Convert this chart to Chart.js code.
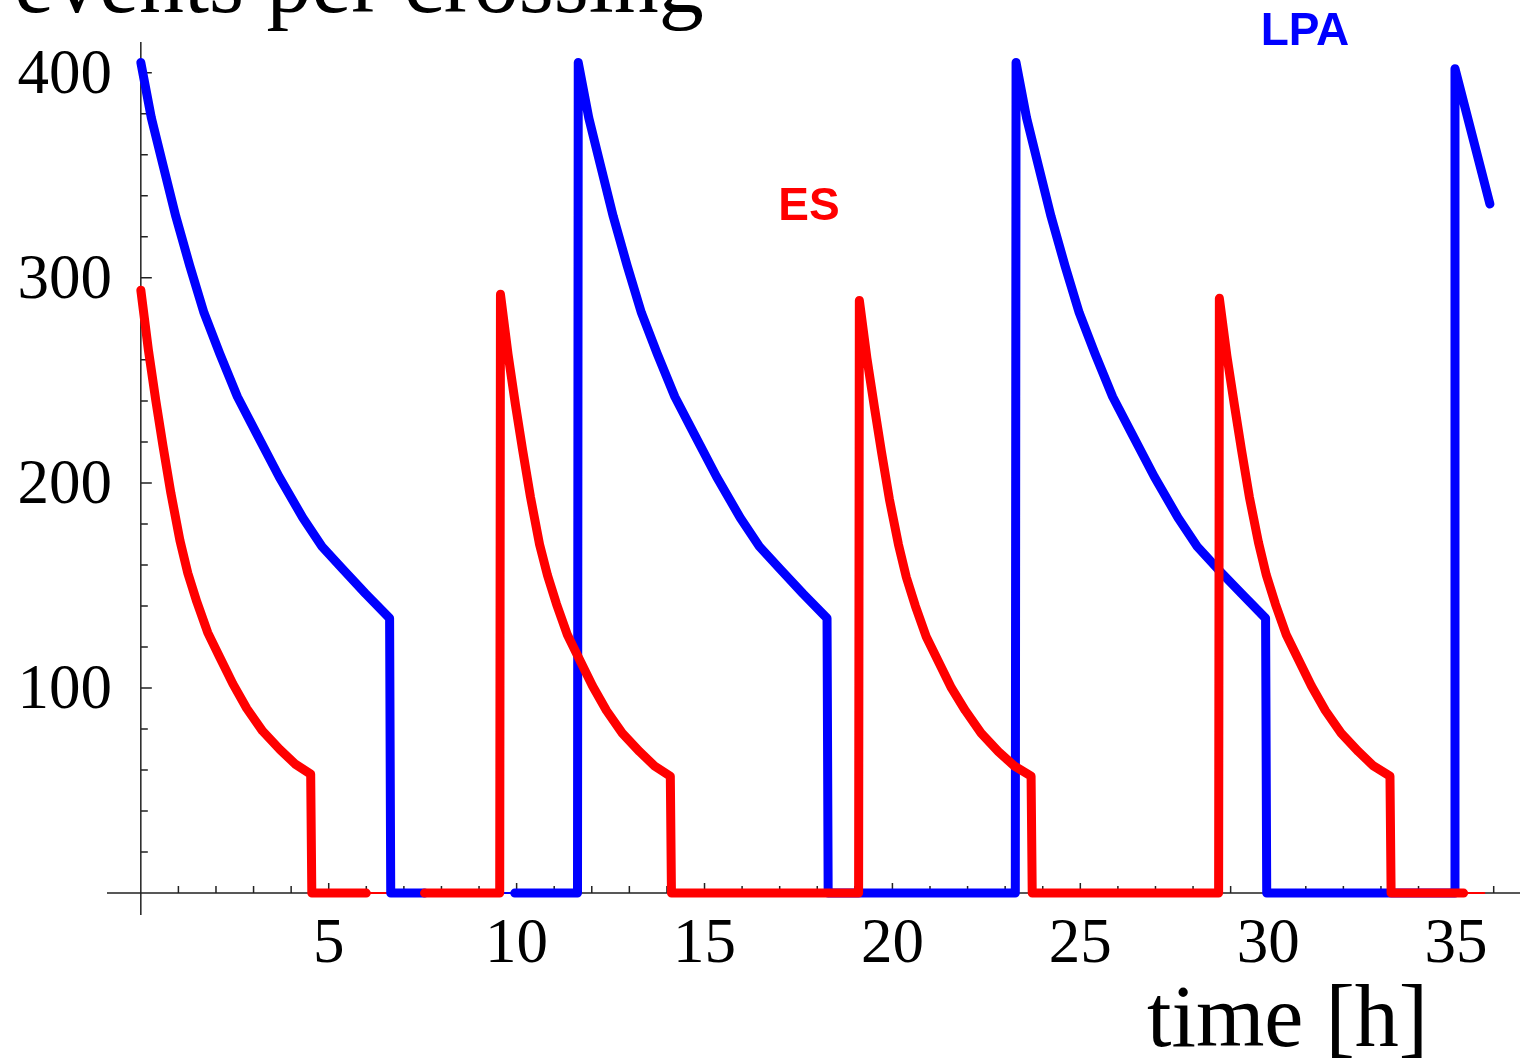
<!DOCTYPE html>
<html>
<head>
<meta charset="utf-8">
<title>events per crossing</title>
<script src="https://cdn.jsdelivr.net/npm/chart.js@4/dist/chart.umd.min.js"></script>
<style>
  html, body { margin: 0; padding: 0; background: #fff; }
  #wrap { width: 1522px; height: 1063px; position: relative; }
</style>
</head>
<body>
<div id="wrap"><canvas id="chart"></canvas></div>
<script>
// axis ticks
const xTickLabels = [5, 10, 15, 20, 25, 30, 35];
const yTickLabels = [100, 200, 300, 400];

// LPA (blue); null = gap in the plotted line
const lpaTime = [
  0, 0.28, 0.59, 0.93, 1.30, 1.68, 2.10, 2.57, 3.08, 3.68, 4.31, 4.82, 5.37, 5.98, 6.62, 6.65, 7.55, 8.0, 9.95, 11.62,
  11.64, 11.92, 12.23, 12.57, 12.94, 13.32, 13.74, 14.21, 14.72, 15.32, 15.95, 16.46, 17.01, 17.62, 18.26, 18.29, 23.27,
  23.29, 23.57, 23.88, 24.22, 24.59, 24.97, 25.39, 25.86, 26.37, 26.97, 27.60, 28.11, 28.66, 29.29, 29.93, 29.96, 34.95,
  34.97, 35.90];
const lpaValue = [
  405, 378, 355, 330, 306, 283, 263, 242, 224, 203, 183, 169, 158, 146, 134, 0, 0, null, 0, 0,
  405, 378, 355, 330, 306, 283, 263, 242, 224, 203, 183, 169, 158, 146, 134, 0, 0,
  405, 378, 355, 330, 306, 283, 263, 242, 224, 203, 183, 169, 158, 146, 134, 0, 0,
  402, 336];

// ES (red)
const esTime = [
  0, 0.20, 0.40, 0.59, 0.80, 1.04, 1.25, 1.49, 1.78, 2.10, 2.45, 2.82, 3.24, 3.70, 4.10, 4.52, 4.55, 6.0, 6.8, 7.55, 9.55,
  9.57, 9.77, 9.97, 10.16, 10.37, 10.61, 10.82, 11.06, 11.35, 11.67, 12.02, 12.39, 12.81, 13.27, 13.67, 14.09, 14.12, 19.10,
  19.12, 19.32, 19.52, 19.71, 19.92, 20.16, 20.37, 20.61, 20.90, 21.22, 21.57, 21.94, 22.36, 22.82, 23.24, 23.69, 23.72, 28.68,
  28.70, 28.90, 29.10, 29.29, 29.50, 29.74, 29.95, 30.19, 30.48, 30.80, 31.15, 31.52, 31.94, 32.40, 32.80, 33.24, 33.27, 35.2];
const esValue = [
  294, 265, 240, 218, 195, 172, 156, 142, 127, 115, 102, 90, 79, 70, 63, 58, 0, 0, null, 0, 0,
  292, 263, 238, 216, 193, 170, 155, 141, 126, 114, 101, 89, 78, 69, 62, 57, 0, 0,
  289, 261, 237, 215, 192, 170, 154, 140, 125, 113, 100, 89, 78, 69, 62, 57, 0, 0,
  290, 262, 238, 216, 193, 171, 155, 141, 126, 114, 101, 89, 78, 69, 62, 57, 0, 0];

// thin pieces of the zero lines
const lpaThinTime = [9.55, 9.95];
const lpaThinValue = [0, 0];
const esThinTime = [6.0, 6.65, 6.7, 35.2, 35.75];
const esThinValue = [0, 0, null, 0, 0];

function toPoints(times, values) {
    return times.map((t, i) => ({ x: t, y: values[i] }));
}

// axes drawn at x = 0 and y = 0, Mathematica style
const axesPlugin = {
    id: 'axesPlugin',
    beforeDatasetsDraw(chart) {
        const ctx = chart.ctx;
        const area = chart.chartArea;
        const xs = chart.scales.x;
        const ys = chart.scales.y;
        const x0 = xs.getPixelForValue(0);
        const y0 = ys.getPixelForValue(0);
        ctx.save();
        ctx.strokeStyle = '#222';
        ctx.lineWidth = 1.5;
        ctx.beginPath();
        ctx.moveTo(area.left, y0);
        ctx.lineTo(area.right, y0);
        ctx.moveTo(x0, area.top);
        ctx.lineTo(x0, area.bottom);
        // x minor / major ticks
        for (let t = 1; t <= 36; t++) {
            const px = xs.getPixelForValue(t);
            const len = t % 5 === 0 ? 10 : 7;
            ctx.moveTo(px, y0);
            ctx.lineTo(px, y0 - len);
        }
        // y minor / major ticks
        for (let v = 20; v <= 400; v += 20) {
            const py = ys.getPixelForValue(v);
            const len = v % 100 === 0 ? 11 : 7;
            ctx.moveTo(x0, py);
            ctx.lineTo(x0 + len, py);
        }
        ctx.stroke();
        ctx.restore();
    },
    afterDraw(chart) {
        const ctx = chart.ctx;
        const xs = chart.scales.x;
        const ys = chart.scales.y;
        const y0 = ys.getPixelForValue(0);
        ctx.save();
        ctx.fillStyle = '#000';
        ctx.font = '63px "Liberation Serif", "DejaVu Serif", serif';
        ctx.textBaseline = 'alphabetic';
        ctx.textAlign = 'center';
        xTickLabels.forEach(v => {
            ctx.fillText(String(v), xs.getPixelForValue(v), y0 + 69);
        });
        ctx.textAlign = 'right';
        yTickLabels.forEach(v => {
            ctx.fillText(String(v), 112, ys.getPixelForValue(v) + 20);
        });

        // axis titles
        ctx.font = '88px "Liberation Serif", "DejaVu Serif", serif';
        ctx.textAlign = 'left';
        ctx.fillText('time [h]', 1147, 1046);
        ctx.font = '90px "Liberation Serif", "DejaVu Serif", serif';
        ctx.fillText('events per crossing', 14, 12);

        // series labels
        ctx.font = 'bold 46px "Liberation Sans", Arial, sans-serif';
        ctx.textAlign = 'center';
        ctx.fillStyle = '#0000ff';
        ctx.fillText('LPA', 1305, 45);
        ctx.fillStyle = '#ff0000';
        ctx.fillText('ES', 809, 220);
        ctx.restore();
    }
};

const lineStyle = {
    pointRadius: 0,
    pointHoverRadius: 0,
    tension: 0,
    fill: false,
    spanGaps: false,
    borderCapStyle: 'round',
    borderJoinStyle: 'round',
    clip: false
};

new Chart(document.getElementById('chart'), {
    type: 'line',
    data: {
        datasets: [
            Object.assign({
                label: 'ES',
                data: toPoints(esTime, esValue),
                borderColor: '#ff0000',
                borderWidth: 9,
                order: 1
            }, lineStyle),
            Object.assign({
                label: 'LPA',
                data: toPoints(lpaTime, lpaValue),
                borderColor: '#0000ff',
                borderWidth: 9,
                order: 2
            }, lineStyle),
            Object.assign({
                label: 'ES thin',
                data: toPoints(esThinTime, esThinValue),
                borderColor: '#ff0000',
                borderWidth: 2,
                order: 3
            }, lineStyle),
            Object.assign({
                label: 'LPA thin',
                data: toPoints(lpaThinTime, lpaThinValue),
                borderColor: '#0000ff',
                borderWidth: 2,
                order: 4
            }, lineStyle)
        ]
    },
    options: {
        responsive: true,
        maintainAspectRatio: false,
        animation: false,
        layout: { padding: { left: 107, right: 2, top: 42, bottom: 148 } },
        plugins: {
            legend: { display: false },
            tooltip: { enabled: false }
        },
        scales: {
            x: { type: 'linear', min: -0.9, max: 36.7, display: false },
            y: { type: 'linear', min: -10.7, max: 415, display: false }
        }
    },
    plugins: [axesPlugin]
});
</script>
</body>
</html>
